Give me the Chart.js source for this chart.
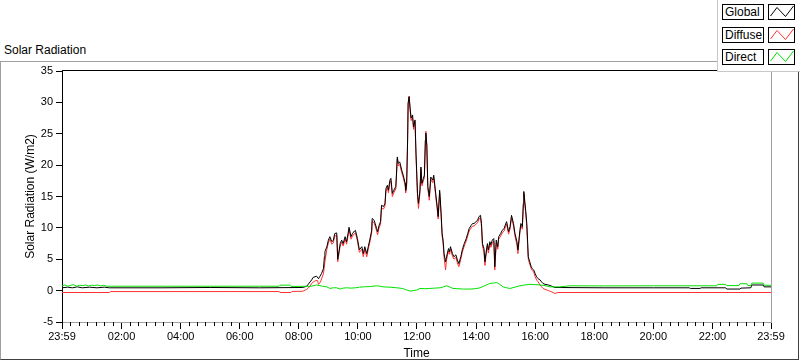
<!DOCTYPE html>
<html><head><meta charset="utf-8">
<script src="https://cdn.jsdelivr.net/npm/chart.js@4"></script>
<style>
html,body{margin:0;padding:0;background:#fff;}
#wrap{position:relative;width:800px;height:361px;overflow:hidden;font-family:"Liberation Sans",Arial,sans-serif;color:#000;}
#frame{position:absolute;left:0;top:61px;width:797px;height:297px;border-top:1px solid #a0a0a0;border-left:1px solid #a0a0a0;border-right:1px solid #404040;border-bottom:1px solid #404040;}
#title{position:absolute;left:4px;top:43px;font-size:12px;line-height:14px;white-space:nowrap;}
canvas{position:absolute;left:0;top:0;}
#legend{position:absolute;left:717px;top:0;width:83px;height:72px;background:#fff;border-left:1px solid #c8c8c8;border-bottom:1px solid #c8c8c8;box-sizing:border-box;}
.row{position:absolute;left:4px;height:16px;width:76px;}
.lab{position:absolute;left:0;top:0;width:42px;height:16px;box-sizing:border-box;border:1px solid #000;font-size:12px;line-height:14px;padding-left:2px;white-space:nowrap;overflow:hidden;}
.smp{position:absolute;left:46px;top:0;width:27px;height:16px;box-sizing:border-box;border:1px solid #000;}
.smp svg{position:absolute;left:0;top:0;}
</style>
</head><body>
<div id="wrap">
  <div id="frame"></div>
  <div id="title">Solar Radiation</div>
  <canvas id="c" width="800" height="361"></canvas>
  <div id="legend"></div>
</div>
<script>
// Time in minutes since midnight; -1 = 23:59 of the previous day
const tickTimes  = [-1, 120, 240, 360, 480, 600, 720, 840, 960, 1080, 1200, 1320, 1439];
const tickLabels = ["23:59","02:00","04:00","06:00","08:00","10:00","12:00","14:00","16:00","18:00","20:00","22:00","23:59"];

const globalTimes = [-1,10,20,30,40,55,70,85,95,200,300,400,488,496,499,506,509,516,520,523,526,530,532,533,537,540,543,547,550,553,557,559,564,567,570,574,577,580,582,586,589,593,595,599,603,608,611,614,618,621,624,628,629,633,635,638,640,643,646,648,652,655,657,660,662,665,667,670,673,677,679,680,682,685,689,692,696,697,699,701,702,704,706,708,711,713,716,718,721,723,726,728,730,733,735,737,738,740,742,745,748,752,754,758,761,763,766,767,769,771,773,775,778,780,784,786,788,792,795,799,802,805,809,812,816,820,823,826,830,833,836,840,843,846,849,851,853,856,858,860,863,865,868,870,873,876,878,881,884,886,890,893,897,899,902,906,909,912,916,919,923,925,927,929,931,934,936,937,939,941,943,945,946,949,952,954,957,960,963,966,970,973,976,980,987,994,1000,1100,1200,1273,1275,1295,1297,1347,1349,1376,1378,1398,1400,1423,1425,1439];
const globalValues = [0.45,0.55,0.45,0.6,0.45,0.55,0.45,0.55,0.45,0.45,0.5,0.45,0.5,0.7,1.0,1.7,2.1,2.3,1.9,2.3,2.7,3.5,5.4,6.2,7.0,8.05,8.6,7.8,8.0,9.1,9.2,5.0,7.5,8.05,7.5,8.6,7.8,9.1,10.1,8.6,9.1,9.5,9.6,8.3,6.5,7.0,5.9,7.0,5.9,7.0,8.05,9.6,11.5,11.2,10.7,9.9,9.4,10.4,11.0,13.6,13.4,13.9,16.3,16.8,16.0,17.6,17.9,15.5,16.0,16.6,19.7,21.3,20.3,20.5,19.2,18.4,17.1,16.0,17.1,24.3,29.9,30.9,29.1,27.5,28.0,26.1,27.2,21.9,15.5,13.9,16.0,19.7,17.1,17.9,18.4,24.0,25.1,23.2,16.6,15.0,18.1,17.6,18.4,15.5,13.4,11.8,16.0,15.0,12.3,9.1,8.05,5.9,4.6,5.4,6.7,6.2,7.0,5.9,5.4,5.7,4.9,4.3,5.4,6.5,7.5,8.3,9.1,9.9,10.4,10.7,10.7,11.0,11.2,11.8,12.0,10.7,7.5,6.7,4.6,5.9,7.5,6.5,7.8,7.3,8.05,8.3,3.8,8.05,7.0,8.6,9.1,9.6,9.9,10.4,11.0,9.4,10.2,12.0,10.7,9.1,7.8,6.5,8.05,9.6,10.7,10.2,13.9,15.8,14.2,12.6,10.7,7.3,5.4,4.6,3.8,3.5,3.3,2.7,2.2,1.9,1.7,1.4,1.15,1.0,0.9,0.7,0.5,0.45,0.45,0.45,0.35,0.35,0.45,0.45,0.25,0.25,0.4,0.45,0.9,0.9,0.6,0.6];

const diffuseTimes = [-1,95,97,440,442,464,466,488,496,503,506,510,514,518,520,524,530,533,537,540,543,547,550,553,557,559,564,567,570,574,577,580,582,586,589,593,595,599,603,608,611,614,618,621,624,628,629,633,635,638,640,643,646,648,652,655,657,660,662,665,667,670,673,677,679,680,682,685,689,692,696,697,699,701,702,704,706,708,711,713,716,718,721,723,726,728,730,733,735,737,738,740,742,745,748,752,754,758,761,763,766,767,769,771,773,775,778,780,784,786,788,792,795,799,802,805,809,812,816,820,823,826,830,833,836,840,843,846,849,851,853,856,858,860,863,865,868,870,873,876,878,881,884,886,890,893,897,899,902,906,909,912,916,919,923,925,927,929,931,934,936,937,939,941,943,945,946,949,952,954,957,960,963,966,970,973,976,980,987,994,1000,1006,1439];
const diffuseValues = [-0.3,-0.3,-0.15,-0.15,-0.3,-0.3,-0.13,-0.1,0.2,0.7,1.15,1.4,1.6,1.6,1.0,1.4,2.7,4.6,6.6,7.6,8.2,7.4,7.6,8.7,8.8,4.6,7.1,7.7,7.1,8.2,7.4,8.7,9.7,8.2,8.7,9.1,9.2,7.9,6.1,6.6,5.4,6.6,5.4,6.6,7.6,9.2,11.1,10.8,10.3,9.5,8.9,10.0,10.6,13.2,13.0,13.5,15.9,16.4,15.6,17.2,17.5,15.0,15.6,16.2,19.3,21.0,19.9,20.1,18.8,18.0,16.7,15.6,16.7,24.0,29.7,31.0,28.8,27.1,27.6,25.7,26.9,21.5,15.0,13.1,15.6,19.4,16.7,17.5,18.0,23.8,25.4,22.8,16.2,14.4,17.7,17.2,18.0,15.1,13.0,11.4,15.6,14.6,11.9,8.7,7.6,5.3,3.3,4.9,6.3,5.8,6.6,5.5,5.0,5.3,4.4,3.8,5.0,6.1,7.1,7.9,8.7,9.5,10.0,10.3,10.3,10.6,10.8,11.4,11.6,10.2,7.0,6.2,4.0,5.5,7.1,6.0,7.4,6.9,7.6,7.9,3.3,7.6,6.6,8.2,8.7,9.2,9.5,10.0,10.6,9.0,9.8,11.6,10.3,8.7,7.3,5.9,7.6,9.2,10.3,9.8,13.6,15.5,13.7,12.1,10.2,6.6,5.0,4.2,3.5,3.2,3.0,2.2,1.7,1.4,0.9,0.6,0.35,0.2,0.0,-0.2,-0.45,-0.3,-0.3];

const directTimes = [-1,5,11,17,23,29,35,41,47,53,59,65,71,77,83,90,440,442,462,464,505,516,528,537,543,550,557,564,570,577,586,595,603,611,625,638,645,651,665,679,690,696,706,712,719,726,736,746,756,767,774,780,786,793,803,814,828,838,848,858,868,875,882,888,895,902,909,919,929,939,949,960,970,980,990,1010,1031,1100,1200,1329,1331,1347,1349,1374,1376,1390,1392,1398,1400,1423,1425,1439];
const directValues = [0.75,0.9,0.7,0.85,0.95,0.7,0.85,0.8,0.9,0.72,0.88,0.8,0.9,0.75,0.85,0.7,0.7,0.87,0.87,0.67,0.7,0.9,0.7,0.6,0.35,0.45,0.45,0.25,0.4,0.45,0.4,0.45,0.55,0.6,0.65,0.77,0.7,0.6,0.55,0.45,0.35,0.2,-0.08,0.0,0.08,0.35,0.3,0.35,0.4,0.45,0.6,0.77,0.6,0.35,0.3,0.25,0.25,0.3,0.45,0.8,1.15,1.2,1.3,1.0,0.6,0.45,0.35,0.55,0.77,0.9,1.0,0.95,0.9,0.8,0.6,0.6,0.77,0.75,0.77,0.77,1.0,1.0,0.8,0.8,1.1,1.1,0.8,0.8,1.2,1.2,0.85,0.85];

const seriesNames  = ["Global", "Diffuse", "Direct"];
const seriesColors = ["#000000", "#ff3030", "#00e000"];

function pts(ts, vs) { return ts.map((t, i) => ({ x: t, y: vs[i] })); }

const FONT = '"Liberation Sans", Arial, sans-serif';

const framePlugin = {
  id: 'frame',
  afterDraw(chart) {
    const { ctx, chartArea: a, scales: { x } } = chart;
    ctx.save();
    ctx.lineWidth = 1;
    // minor ticks
    ctx.strokeStyle = '#000';
    ctx.beginPath();
    for (let k = 1; k < 84; k++) {
      if (k % 7 === 0) continue;
      const px = Math.round(x.getPixelForValue(-1 + k * 1440 / 84)) + 0.5;
      ctx.moveTo(px, a.bottom);
      ctx.lineTo(px, a.bottom + 4);
    }
    ctx.stroke();
    // top border
    ctx.beginPath();
    ctx.moveTo(a.left, Math.round(a.top) - 0.5);
    ctx.lineTo(a.right + 1, Math.round(a.top) - 0.5);
    ctx.stroke();
    // right border
    ctx.strokeStyle = '#a0a0a0';
    ctx.beginPath();
    ctx.moveTo(Math.round(a.right) + 0.5, a.top);
    ctx.lineTo(Math.round(a.right) + 0.5, a.bottom + 1);
    ctx.stroke();
    ctx.restore();
  }
};

const chart = new Chart(document.getElementById('c'), {
  type: 'line',
  data: {
    datasets: [
      { label: seriesNames[0], data: pts(globalTimes, globalValues), borderColor: seriesColors[0], order: 1 },
      { label: seriesNames[1], data: pts(diffuseTimes, diffuseValues), borderColor: seriesColors[1], order: 2 },
      { label: seriesNames[2], data: pts(directTimes, directValues), borderColor: seriesColors[2], order: 0 }
    ]
  },
  options: {
    responsive: false,
    animation: false,
    devicePixelRatio: 1,
    elements: { point: { radius: 0 }, line: { borderWidth: 1, tension: 0 } },
    layout: { padding: { top: 71, right: 29, left: 0, bottom: 0 } },
    plugins: { legend: { display: false }, tooltip: { enabled: false } },
    scales: {
      x: {
        type: 'linear', min: -1, max: 1439,
        afterBuildTicks: s => { s.ticks = tickTimes.map(v => ({ value: v })); },
        afterFit: s => { s.height = 39; },
        ticks: { autoSkip: false, maxRotation: 0, padding: 1, color: '#000', font: { family: FONT, size: 11 },
                 callback: (v, i) => tickLabels[i] },
        grid: { drawOnChartArea: false, tickLength: 7, tickColor: '#000' },
        border: { color: '#a0a0a0' },
        title: { display: true, text: 'Time', color: '#000', font: { family: FONT, size: 12 }, padding: { top: 0, bottom: 0 } }
      },
      y: {
        min: -5, max: 35,
        afterFit: s => { s.width = 62; },
        ticks: { stepSize: 5, padding: 3, color: '#000', font: { family: FONT, size: 11 } },
        grid: { drawOnChartArea: false, tickLength: 6, tickColor: '#000' },
        border: { color: '#000' },
        title: { display: true, text: 'Solar Radiation (W/m2)', color: '#000', font: { family: FONT, size: 12 }, padding: { top: 23, bottom: 0 } }
      }
    }
  },
  plugins: [framePlugin]
});

// HTML legend built from the chart's datasets
const legend = document.getElementById('legend');
const rowTops = [4, 27, 49];
chart.data.datasets.forEach((ds, i) => {
  const row = document.createElement('div');
  row.className = 'row';
  row.style.top = rowTops[i] + 'px';
  row.innerHTML = '<div class="lab">' + ds.label + '</div>' +
    '<div class="smp"><svg width="25" height="14"><polyline points="1.5,11 8,2.5 16.5,11.5 24.5,1" fill="none" stroke="' +
    ds.borderColor + '" stroke-width="1"/></svg></div>';
  legend.appendChild(row);
});
</script>
</body></html>
